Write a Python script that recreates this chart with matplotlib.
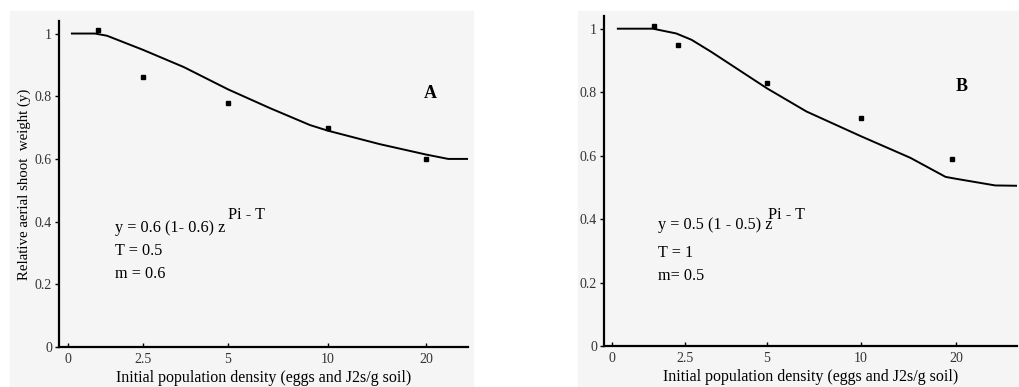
import numpy as np
import matplotlib
matplotlib.use('Agg')
import matplotlib.pyplot as plt
from matplotlib.patches import Rectangle

plt.rcParams['font.family'] = ['Liberation Serif', 'DejaVu Serif']

# DATA
x_ticks = [0, 2.5, 5, 10, 20]
x_tick_labels = ['0', '2.5', '5', '10', '20']
y_ticks = [0, 0.2, 0.4, 0.6, 0.8, 1.0]
y_tick_labels = ['0', '0.2', '0.4', '0.6', '0.8', '1']

a_obs_x = [1, 2.5, 5, 10, 20]
a_obs_y = [1.01, 0.86, 0.78, 0.70, 0.60]
a_fit_x = [0.13, 0.9, 1.3, 2.5, 3.7, 5, 7.1, 9.1, 10, 15.3, 20, 23.7, 27]
a_fit_y = [1.0, 1.0, 0.993, 0.948, 0.893, 0.822, 0.762, 0.708, 0.69, 0.647, 0.614, 0.60, 0.60]

b_obs_x = [1.45, 2.25, 5, 10, 19.6]
b_obs_y = [1.01, 0.95, 0.83, 0.72, 0.59]
b_fit_x = [0.2, 1.4, 2.2, 2.7, 3.3, 5, 7.1, 10, 15.2, 18.9, 20, 24.5, 27]
b_fit_y = [1.0, 1.0, 0.985, 0.965, 0.927, 0.812, 0.739, 0.661, 0.593, 0.533, 0.527, 0.506, 0.505]

# x axis is not linear in the original, ticks are spaced by hand
scale_vals = [0, 2.5, 5, 10, 20, 27]
pos_a = [9/409, 84/409, 169/409, 269/409, 367/409, 1.0]
pos_b = [8/413, 81/413, 163/413, 257/413, 352/413, 1.0]

W, H = 1019, 387
fig = plt.figure(figsize=(W/100, H/100), dpi=100)
bg = '#f5f5f5'
fig.patches.append(Rectangle((10/W, 0), 463/W, 1 - 11/H, transform=fig.transFigure,
                             color=bg, zorder=-10))
fig.patches.append(Rectangle((578/W, 0), 441/W, 1 - 11/H, transform=fig.transFigure,
                             color=bg, zorder=-10))


def mkpanel(rect, pos, ox, oy, fx, fy, letter, lxy, eq, tt, mm, show_ylabel):
    ax = fig.add_axes(rect)
    ax.set_facecolor(bg)
    tx = lambda v: np.interp(v, scale_vals, pos)
    ax.plot(tx(fx), fy, '-k', linewidth=1.4)
    ax.plot(tx(ox), oy, 's', color='k', markersize=2.5)
    ax.set_xlim(0, 1)
    ax.set_ylim(0, 1.04)
    ax.set_xticks(tx(x_ticks))
    ax.set_xticklabels(x_tick_labels)
    ax.set_yticks(y_ticks)
    ax.set_yticklabels(y_tick_labels)
    for s in ['top', 'right']:
        ax.spines[s].set_visible(False)
    for s in ['left', 'bottom']:
        ax.spines[s].set_linewidth(1.6)
    ax.tick_params(axis='x', direction='in', length=3, width=1, pad=4,
                   labelsize=10, labelcolor='#333333')
    ax.tick_params(axis='y', direction='out', length=3, width=1, pad=2,
                   labelsize=10, labelcolor='#333333')
    ax.set_xlabel('Initial population density (eggs and J2s/g soil)', fontsize=11.5, labelpad=3)
    if show_ylabel:
        ax.set_ylabel('Relative aerial shoot  weight (y)', fontsize=10.7, labelpad=3)
    ax.text(lxy[0], lxy[1], letter, transform=ax.transAxes, fontsize=13,
            fontweight='bold', ha='center', va='center')
    ax.text(eq[0], eq[1], eq[2], transform=ax.transAxes, fontsize=11.7, va='baseline')
    ax.text(eq[3], eq[4], 'Pi - T', transform=ax.transAxes, fontsize=11.7, va='baseline')
    ax.text(eq[0], eq[5], tt, transform=ax.transAxes, fontsize=11.7, va='baseline')
    ax.text(eq[0], eq[6], mm, transform=ax.transAxes, fontsize=11.7, va='baseline')
    return ax


mkpanel([59/W, 1 - 347/H, 409/W, 326/H], pos_a, a_obs_x, a_obs_y, a_fit_x, a_fit_y,
        'A', (0.907, 0.779),
        (0.137, 0.353, 'y = 0.6 (1- 0.6) z', 0.413, 0.393, 0.282, 0.212),
        'T = 0.5', 'm = 0.6', True)
mkpanel([604/W, 1 - 346/H, 413/W, 330/H], pos_b, b_obs_x, b_obs_y, b_fit_x, b_fit_y,
        'B', (0.867, 0.785),
        (0.13, 0.355, 'y = 0.5 (1 - 0.5) z', 0.397, 0.385, 0.27, 0.2),
        'T = 1', 'm= 0.5', False)

plt.savefig('out.png', dpi=100)
